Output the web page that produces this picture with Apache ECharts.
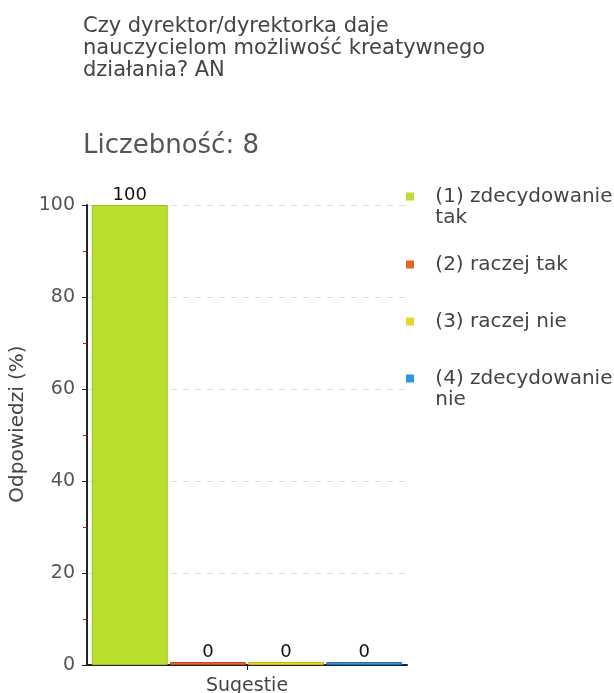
<!DOCTYPE html>
<html><head><meta charset="utf-8">
<script src="https://cdn.jsdelivr.net/npm/echarts@6/dist/echarts.min.js"></script>
<style>html,body{margin:0;padding:0;background:#fff}#c{width:614px;height:693px}</style>
</head><body><div id="c"></div>
<script>
const titleLines = ['Czy dyrektor/dyrektorka daje', 'nauczycielom możliwość kreatywnego', 'działania? AN'];
const subtitle = 'Liczebność: 8';
const categories = ['Sugestie'];
const seriesNames = ['(1) zdecydowanie tak', '(2) raczej tak', '(3) raczej nie', '(4) zdecydowanie nie'];
const seriesValues = [[100], [0], [0], [0]];
const seriesColors = ['#bade2e', '#e8632a', '#e6d62c', '#2e96e0'];
const seriesBorders = ['#98c01a', '#c84818', '#c8b810', '#1870c0'];
const yTicks = { min: 0, max: 100, interval: 20 };
const yName = 'Odpowiedzi (%)';
const xName = 'Sugestie';
const legendTops = [186, 254, 311, 368];

const chart = echarts.init(document.getElementById('c'));
const font = 'DejaVu Sans';
const iconOneLine = 'path://M0,0h8v8h-8zM18,8L18,8.01';
const iconTwoLine = 'path://M0,0h8v8h-8zM18,29L18,29.01';
chart.setOption({
  animation: false,
  textStyle: { fontFamily: font },
  title: [
    { text: titleLines.join('\n'), left: 83, top: 16, padding: 0, textStyle: { fontSize: 21, fontWeight: 'normal', color: '#444', lineHeight: 22, fontFamily: font } },
    { text: subtitle, left: 83, top: 133, padding: 0, textStyle: { fontSize: 26, fontWeight: 'normal', color: '#555', fontFamily: font } }
  ],
  legend: seriesNames.map((n, i) => {
    const wraps = n.length > 16;
    return {
      orient: 'vertical', left: 406, top: legendTops[i], padding: 0,
      itemWidth: 18, itemHeight: wraps ? 29 : 8, icon: wraps ? iconTwoLine : iconOneLine,
      itemStyle: { borderWidth: 0 },
      data: [n],
      formatter: s => ' ' + s,
      textStyle: { fontSize: 20, color: '#444', width: 185, overflow: 'break', lineHeight: 21, fontFamily: font }
    };
  }),
  grid: { left: 87, right: 207, top: 205, bottom: 28, containLabel: false, outerBoundsMode: 'none' },
  xAxis: {
    type: 'category', data: categories,
    name: xName, nameLocation: 'middle', nameGap: 12,
    nameTextStyle: { fontSize: 19, color: '#444', verticalAlign: 'top' },
    axisLine: { lineStyle: { color: '#222', width: 2 } },
    axisTick: { show: true, alignWithLabel: true, length: 5, lineStyle: { color: '#222' } },
    axisLabel: { show: false }
  },
  yAxis: {
    type: 'value', min: yTicks.min, max: yTicks.max, interval: yTicks.interval,
    name: yName, nameLocation: 'middle', nameGap: 57, nameRotate: 90,
    nameTextStyle: { fontSize: 20, color: '#444', padding: [0, 0, 0, 22] },
    axisLine: { show: true, lineStyle: { color: '#222', width: 2 } },
    axisTick: { show: true, length: 5, lineStyle: { color: '#222' } },
    minorTick: { show: true, splitNumber: 2, length: 4, lineStyle: { color: '#e00' } },
    axisLabel: { fontSize: 19, color: '#555', margin: 12 },
    splitLine: { show: true, lineStyle: { color: '#ddd', type: [6, 6] } }
  },
  series: seriesNames.map((n, i) => ({
    name: n, type: 'bar', data: seriesValues[i],
    barGap: '3%', barCategoryGap: '3%', barMinHeight: 3,
    itemStyle: { color: seriesColors[i], borderColor: seriesBorders[i], borderWidth: 1 },
    label: { show: true, position: 'top', distance: 1, color: '#111', fontSize: 18 }
  }))
});
</script></body></html>
